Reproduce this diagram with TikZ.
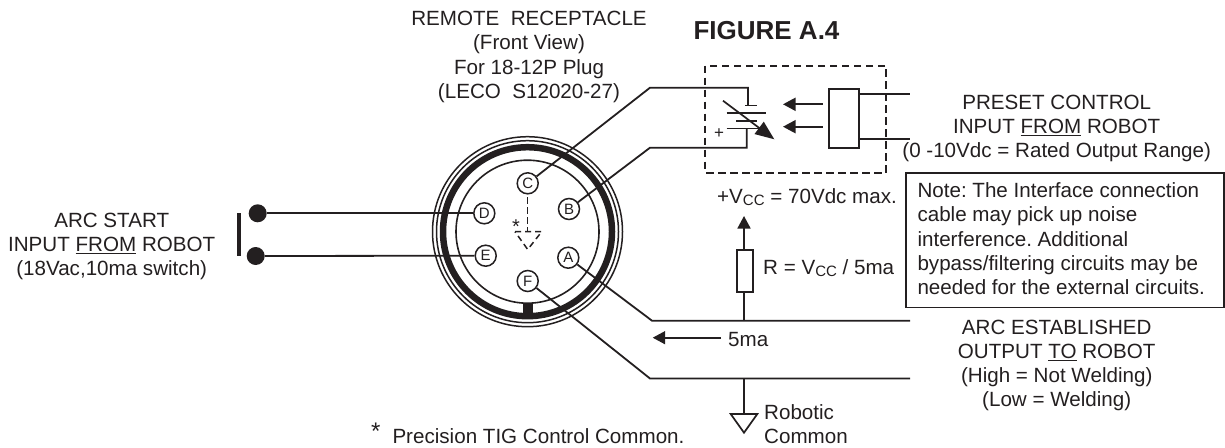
\documentclass[tikz,border=0pt]{standalone}
\usepackage{fontspec}
\setmainfont{Liberation Sans}
\usetikzlibrary{arrows.meta}
\definecolor{ink}{HTML}{231F20}
\newcommand{\under}[1]{\underline{#1}}
\newcommand{\ccsub}{\raisebox{-2.5pt}{\fontsize{15}{15}\selectfont CC}}
\frenchspacing
\tikzset{
 wire/.style={draw=ink,line width=1.8pt,line join=miter},
 pin/.style={circle,draw=ink,line width=1.5pt,fill=white,minimum size=21pt,inner sep=0pt,font=\fontsize{15}{15}\selectfont,text=ink},
 label/.style={inner sep=0pt,align=center,text=ink,font=\fontsize{20.6}{24.2}\selectfont},
 llabel/.style={inner sep=0pt,align=left,text=ink,font=\fontsize{20.6}{24.2}\selectfont,anchor=west},
 blackarrow/.style={draw=ink,line width=1.7pt,-{Triangle[length=12.5pt,width=13pt]}},
 bigarrow/.style={draw=ink,line width=1.7pt,-{Triangle[length=19pt,width=15pt]}},
 dot/.style={circle,fill=ink,minimum size=18pt,inner sep=0pt},
}
\begin{document}
\begin{tikzpicture}[x=1pt,y=-1pt]
\useasboundingbox (0,0) rectangle (1225,447);
% connector shell
\coordinate (ctr) at (527.5,231.7);
\draw[ink,line width=1.5pt] (ctr) circle[radius=95];
\draw[ink,line width=1.5pt] (ctr) circle[radius=91];
\draw[ink,line width=6.5pt] (ctr) circle[radius=84.5];
\draw[ink,line width=1.6pt] (ctr) circle[radius=71.5];
\fill[ink] (522.5,302.7) rectangle (533,318);
% dashed common
\draw[ink,line width=1.5pt,dash pattern=on 7pt off 3pt] (527.7,197) -- (527.7,231.7);
\draw[ink,line width=1.5pt,dash pattern=on 6pt off 4pt] (515,231.7) -- (541.7,231.7) -- (527.7,249.5) -- cycle;
% pins
\node[pin] (C) at (527.7,183.3) {C};
\node[pin] (D) at (484.3,213.3) {D};
\node[pin] (B) at (569,209) {B};
\node[pin] (E) at (485.7,255.7) {E};
\node[pin] (A) at (568.3,257.7) {A};
\node[pin] (F) at (527.7,281) {F};
\node[label,font=\fontsize{20}{20}\selectfont] (star) at (516,227) {*};
% arc start switch
\node[dot] (sw1) at (257.7,213.3) {};
\node[dot] (sw2) at (255.7,256) {};
\fill[ink] (237.2,212.7) rectangle (240.6,256);
\draw[wire] (sw1) -- (D);
\draw[wire] (sw2) -- (E);
% opto
\coordinate (cbend) at (650,87.7);
\coordinate (ctop) at (748,87.7);
\coordinate (cplate) at (748,105.7);
\coordinate (bbend) at (650,147.7);
\coordinate (bbot) at (746.7,147.7);
\coordinate (bplate) at (746.7,128.3);
\draw[wire] (C) -- (cbend) -- (ctop) -- (cplate);
\draw[wire] (B) -- (bbend) -- (bbot) -- (bplate);
\draw[ink,line width=1.5pt] (745,105.7) -- (757,105.7)
  (726.7,113) -- (765.7,113)
  (736,121) -- (757,121)
  (726.7,128.3) -- (765.7,128.3);
\draw[bigarrow] (723,100.7) -- (774.3,139.3);
\node[label,font=\fontsize{17}{17}\selectfont] (plus) at (719,134) {+};
\draw[ink,line width=1.6pt,dash pattern=on 7.5pt off 4.5pt] (705,65.7) rectangle (886,172.7);
\node[draw=ink,line width=1.7pt,fill=white,minimum width=30pt,minimum height=59pt,inner sep=0pt] (relay) at (844,118.5) {};
\coordinate (r1) at (859,94.3);
\coordinate (r2) at (859,139.3);
\coordinate (r1e) at (910,94.3);
\coordinate (r2e) at (910,139.3);
\draw[wire] (r1) -- (r1e);
\draw[wire] (r2) -- (r2e);
\coordinate (a1s) at (822.7,104.3);
\coordinate (a1e) at (783,104.3);
\coordinate (a2s) at (822.7,126.7);
\coordinate (a2e) at (783,126.7);
\draw[blackarrow] (a1s) -- (a1e);
\draw[blackarrow] (a2s) -- (a2e);
% output
\coordinate (abend) at (652,320.7);
\coordinate (aend) at (910,320.7);
\coordinate (fbend) at (650,378.5);
\coordinate (fend) at (910,378.5);
\draw[wire] (A) -- (abend) -- (aend);
\draw[wire] (F) -- (fbend) -- (fend);
\node[draw=ink,line width=1.6pt,fill=white,minimum width=16.5pt,minimum height=42.5pt,inner sep=0pt] (res) at (745,271) {};
\coordinate (rtap) at (744,320.7);
\coordinate (rbot) at (744,292.2);
\coordinate (rtop) at (744,249.8);
\coordinate (vcc) at (744,216);
\draw[wire] (rtap) -- (rbot);
\draw[blackarrow] (rtop) -- (vcc);
\coordinate (fivestart) at (721,337.7);
\coordinate (fiveend) at (652.7,337.7);
\draw[blackarrow] (fivestart) -- (fiveend);
\coordinate (ftap) at (744,378.5);
\coordinate (gnd) at (744,414);
\draw[wire] (ftap) -- (gnd);
\draw[ink,line width=1.7pt,line join=miter] (730.7,414) -- (757.3,414) -- (744,432.7) -- cycle;
% note
\node[draw=ink,line width=1.6pt,fill=white,minimum width=318pt,minimum height=134.6pt,inner sep=0pt] (note) at (1064.7,240) {};
\node[llabel] (notetext) at (917.3,238.8) {Note: The Interface connection\\cable may pick up noise\\interference. Additional\\bypass/filtering circuits may be\\needed for the external circuits.};
% texts
\node[label] (title) at (529,57) {REMOTE\ \ RECEPTACLE\\(Front View)\\For 18-12P Plug\\(LECO\ \ S12020-27)};
\node[label,font=\fontsize{26}{28}\selectfont\bfseries] (fig) at (766.5,31) {FIGURE A.4};
\node[label] (preset) at (1056.7,128.5) {PRESET CONTROL\\INPUT \under{FROM} ROBOT\\(0 -10Vdc = Rated Output Range)};
\node[label] (arcstart) at (111.7,246.5) {ARC START\\INPUT \under{FROM} ROBOT\\(18Vac,10ma switch)};
\node[label] (estab) at (1056.7,365.5) {ARC ESTABLISHED\\OUTPUT \under{TO} ROBOT\\(High = Not Welding)\\(Low = Welding)};
\node[llabel] (vcctext) at (717,197) {+V\ccsub\ = 70Vdc max.};
\node[llabel] (rtext) at (763,268) {R = V\ccsub\ / 5ma};
\node[llabel] (five) at (728,340) {5ma};
\node[llabel] (robotic) at (764,424.5) {Robotic\\Common};
\node[llabel] (prec) at (392.3,436) {Precision TIG Control Common.};
\node[label,font=\fontsize{24}{24}\selectfont] (star2) at (375.7,431) {*};
\end{tikzpicture}
\end{document}
